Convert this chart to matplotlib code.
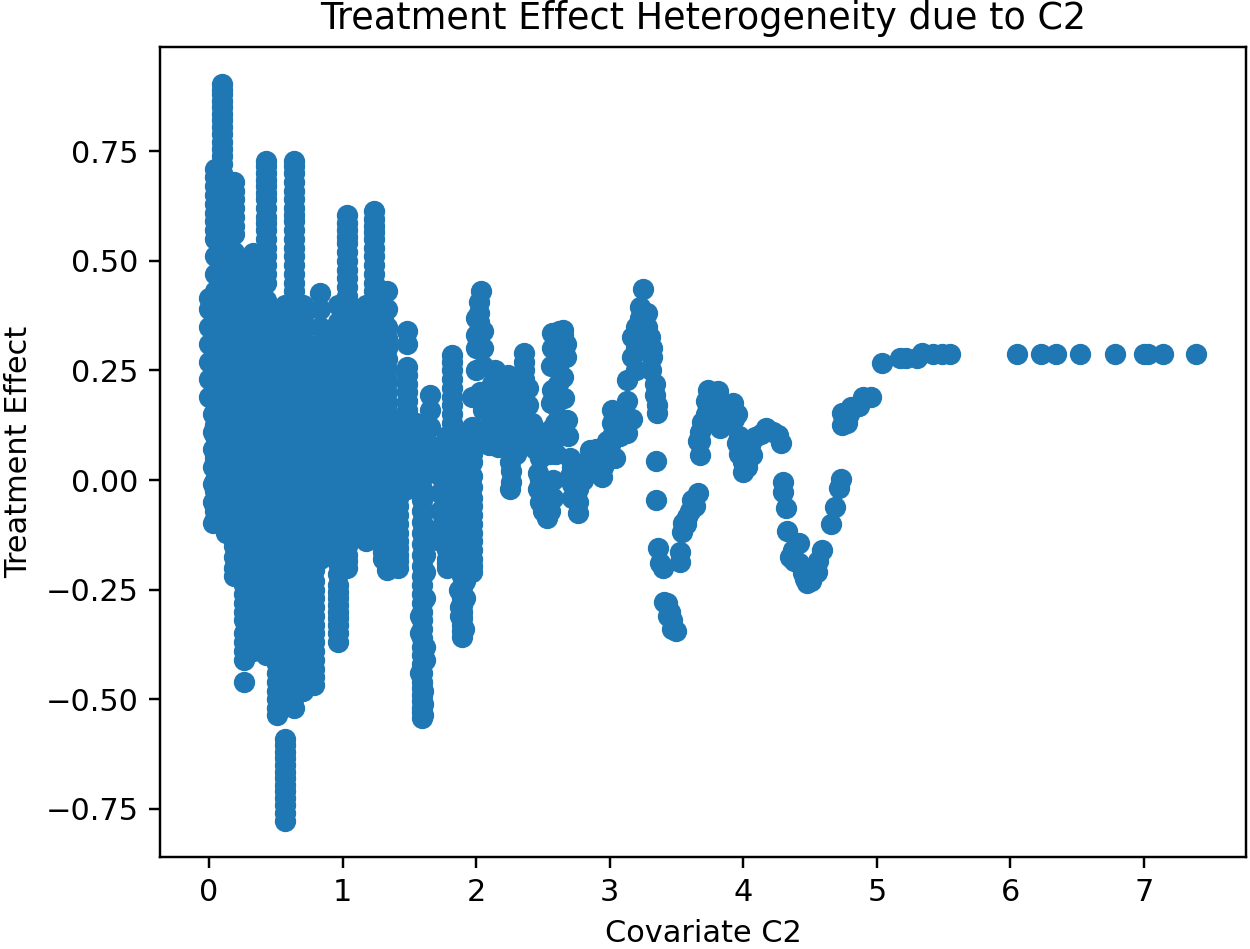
import matplotlib
matplotlib.use("Agg")
import matplotlib.pyplot as plt

# Treatment effect columns: covariate value, then its effects
column_x = [0.00, 0.03, 0.045, 0.095, 0.13, 0.19, 0.225, 0.265, 0.33, 0.39, 0.43, 0.51, 0.57, 0.64, 0.70, 0.745, 0.785,
            0.83, 0.89, 0.965, 1.03, 1.10, 1.175, 1.235, 1.30, 1.335, 1.415, 1.48, 1.55, 1.595, 1.655, 1.73, 1.78, 1.82, 1.895, 1.97]
column_y = [
    [0.415, 0.39, 0.35, 0.31, 0.27, 0.23, 0.19],
    [0.35, 0.31, 0.27, 0.23, 0.19, 0.15, 0.11, 0.07, 0.03, -0.01, -0.05, -0.098],
    [0.71, 0.67, 0.63, 0.59, 0.55, 0.51, 0.47, 0.43, 0.39, 0.35, 0.30, 0.25, 0.20, 0.15, 0.10, 0.05, 0.0, -0.05, -0.09],
    [0.903, 0.88, 0.85, 0.82, 0.79, 0.74, 0.70, 0.66, 0.62, 0.58, 0.54, 0.50, 0.46, 0.42, 0.38, 0.33, 0.28, 0.23, 0.18, 0.13, 0.08, 0.03, -0.02, -0.07, -0.10],
    [0.65, 0.61, 0.57, 0.53, 0.49, 0.45, 0.41, 0.36, 0.31, 0.26, 0.21, 0.16, 0.11, 0.06, 0.01, -0.04, -0.08, -0.12],
    [0.68, 0.64, 0.60, 0.56, 0.52, 0.48, 0.44, 0.40, 0.35, 0.30, 0.25, 0.20, 0.15, 0.10, 0.05, 0.0, -0.05, -0.10, -0.15, -0.20, -0.22],
    [0.50, 0.45, 0.40, 0.35, 0.30, 0.25, 0.20, 0.15, 0.10, 0.05, 0.0, -0.05, -0.10, -0.14, -0.18, -0.21],
    [0.45, 0.40, 0.35, 0.30, 0.25, 0.20, 0.15, 0.10, 0.05, 0.0, -0.05, -0.10, -0.15, -0.20, -0.24, -0.28, -0.32, -0.35, -0.37, -0.39, -0.41, -0.46],
    [0.518, 0.48, 0.44, 0.40, 0.35, 0.30, 0.25, 0.20, 0.15, 0.10, 0.05, 0.0, -0.05, -0.10, -0.15, -0.20, -0.25, -0.30, -0.35, -0.39],
    [0.42, 0.38, 0.33, 0.28, 0.23, 0.18, 0.13, 0.08, 0.03, -0.02, -0.07, -0.12, -0.17, -0.22, -0.27, -0.32, -0.36, -0.39],
    [0.728, 0.70, 0.67, 0.64, 0.60, 0.57, 0.53, 0.49, 0.45, 0.41, 0.36, 0.31, 0.26, 0.21, 0.16, 0.11, 0.06, 0.01, -0.04, -0.09, -0.14, -0.19, -0.24, -0.29, -0.34, -0.38, -0.40],
    [0.38, 0.33, 0.28, 0.23, 0.18, 0.13, 0.08, 0.03, -0.02, -0.07, -0.12, -0.17, -0.22, -0.27, -0.32, -0.37, -0.42, -0.46, -0.50, -0.536],
    [0.40, 0.35, 0.30, 0.25, 0.20, 0.15, 0.10, 0.05, 0.0, -0.05, -0.10, -0.15, -0.20, -0.25, -0.30, -0.35, -0.40, -0.45, -0.50,
     -0.59, -0.62, -0.65, -0.68, -0.71, -0.74, -0.778],
    [0.728, 0.70, 0.66, 0.62, 0.59, 0.55, 0.51, 0.47, 0.43, 0.38, 0.33, 0.28, 0.23, 0.18, 0.13, 0.08, 0.03, -0.02, -0.07, -0.12, -0.17, -0.22, -0.27, -0.32, -0.37, -0.42, -0.47, -0.52],
    [0.40, 0.35, 0.30, 0.25, 0.20, 0.15, 0.10, 0.05, 0.0, -0.05, -0.10, -0.15, -0.20, -0.25, -0.30, -0.35, -0.40, -0.44, -0.48],
    [0.30, 0.25, 0.20, 0.15, 0.10, 0.05, 0.0, -0.05, -0.10, -0.15, -0.20, -0.25, -0.30, -0.35, -0.40, -0.44],
    [0.22, 0.17, 0.12, 0.07, 0.02, -0.03, -0.08, -0.13, -0.18, -0.23, -0.27, -0.31, -0.35, -0.39, -0.43, -0.468],
    [0.426, 0.39, 0.35, 0.31, 0.26, 0.21, 0.16, 0.11, 0.06, 0.01, -0.04, -0.09, -0.14, -0.18],
    [0.33, 0.28, 0.23, 0.18, 0.13, 0.08, 0.03, -0.02, -0.07, -0.13],
    [0.40, 0.36, 0.31, 0.26, 0.21, 0.16, 0.11, 0.06, 0.01, -0.04, -0.09, -0.14, -0.19, -0.24, -0.27, -0.30, -0.33, -0.37],
    [0.604, 0.57, 0.54, 0.50, 0.46, 0.42, 0.37, 0.32, 0.27, 0.22, 0.17, 0.12, 0.07, 0.02, -0.03, -0.08, -0.13, -0.17, -0.20],
    [0.39, 0.34, 0.29, 0.24, 0.19, 0.14, 0.09, 0.04, -0.01, -0.06, -0.10],
    [0.40, 0.35, 0.30, 0.25, 0.20, 0.15, 0.10, 0.05, 0.0, -0.05, -0.10, -0.14],
    [0.613, 0.58, 0.55, 0.51, 0.47, 0.43, 0.38, 0.33, 0.28, 0.23, 0.18, 0.13, 0.08, 0.03, -0.02, -0.07, -0.10],
    [0.43, 0.39, 0.34, 0.29, 0.24, 0.19, 0.14, 0.09, 0.04, -0.01, -0.06, -0.11, -0.15, -0.18],
    [0.43, 0.39, 0.35, 0.30, 0.25, 0.20, 0.15, 0.10, 0.05, 0.0, -0.05, -0.10, -0.15, -0.205],
    [0.137, 0.10, 0.06, 0.02, -0.02, -0.06, -0.10, -0.14, -0.17, -0.20],
    [0.34, 0.31, 0.257, 0.22, 0.18, 0.14, 0.10, 0.06, 0.02, -0.02],
    [0.13, 0.09, 0.05, 0.01, -0.02],
    [0.08, 0.03, -0.02, -0.07, -0.12, -0.17, -0.22, -0.26, -0.30, -0.34, -0.38, -0.42, -0.46, -0.49, -0.52, -0.543],
    [0.194, 0.16, 0.12, 0.08, 0.04, -0.12],
    [0.05, 0.01, -0.03, -0.07, -0.11, -0.14],
    [0.10, 0.06, 0.02, -0.02, -0.06, -0.10, -0.14, -0.18, -0.20],
    [0.285, 0.25, 0.21, 0.17, 0.13, 0.09, 0.05, 0.01, -0.03, -0.07, -0.10],
    [0.10, 0.06, 0.02, -0.02, -0.07, -0.12, -0.17, -0.22, -0.27, -0.30, -0.33, -0.358],
    [0.19, 0.12, 0.08, 0.04, -0.015, -0.06, -0.10, -0.14, -0.18, -0.21],
]

# In-between points at the same covariate values, where the reference column is unbroken
fill_x = [0.045, 0.095, 0.13, 0.19, 0.225, 0.265, 0.33, 0.39, 0.43, 0.51, 0.57, 0.64, 0.70, 0.745, 0.785,
          0.83, 0.89, 0.965, 1.03, 1.10, 1.175, 1.235, 1.30, 1.335, 1.415, 1.48, 1.595, 1.78, 1.82, 1.895, 1.97]
fill_y = [
    [0.69, 0.65, 0.61, 0.57, 0.325, 0.275, 0.225, 0.175, 0.125, 0.075, 0.025, -0.025, -0.07],
    [0.89, 0.865, 0.835, 0.805, 0.77, 0.755, 0.72, 0.68, 0.64, 0.60, 0.56],
    [0.385, 0.335, 0.285, 0.235, 0.185, 0.135, 0.085, 0.035, -0.015, -0.06, -0.10],
    [0.66, 0.62, 0.58, 0.375, 0.325, 0.275, 0.225, 0.175, 0.125, 0.075, 0.025, -0.025, -0.075, -0.125, -0.175],
    [0.475, 0.425, 0.375, 0.325, 0.275, 0.225, 0.175, 0.125, 0.075, 0.025, -0.025, -0.075, -0.12, -0.16, -0.195],
    [0.425, 0.375, 0.325, 0.275, 0.225, 0.175, 0.125, 0.075, 0.025, -0.025, -0.075, -0.125, -0.175, -0.22, -0.26, -0.30],
    [0.375, 0.325, 0.275, 0.225, 0.175, 0.125, 0.075, 0.025, -0.025, -0.075, -0.125, -0.175, -0.225, -0.275, -0.325, -0.37],
    [0.355, 0.305, 0.255, 0.205, 0.155, 0.105, 0.055, 0.005, -0.045, -0.095, -0.145, -0.195, -0.245, -0.295, -0.34],
    [0.715, 0.685, 0.655, 0.62, 0.585, 0.55, 0.51, 0.47, 0.385, 0.335, 0.285, 0.235, 0.185, 0.135, 0.085, 0.035, -0.015, -0.065, -0.115, -0.165, -0.215, -0.265, -0.315, -0.36],
    [0.355, 0.305, 0.255, 0.205, 0.155, 0.105, 0.055, 0.005, -0.045, -0.095, -0.145, -0.195, -0.245, -0.295, -0.345, -0.395, -0.44, -0.48, -0.52],
    [0.375, 0.325, 0.275, 0.225, 0.175, 0.125, 0.075, 0.025, -0.025, -0.075, -0.125, -0.175, -0.225, -0.275, -0.325, -0.375, -0.425, -0.475,
     -0.605, -0.635, -0.665, -0.695, -0.725, -0.76],
    [0.715, 0.68, 0.64, 0.605, 0.57, 0.53, 0.49, 0.45, 0.405, 0.355, 0.305, 0.255, 0.205, 0.155, 0.105, 0.055, 0.005, -0.045, -0.095, -0.145, -0.195, -0.245, -0.295, -0.345, -0.395, -0.445, -0.495],
    [0.375, 0.325, 0.275, 0.225, 0.175, 0.125, 0.075, 0.025, -0.025, -0.075, -0.125, -0.175, -0.225, -0.275, -0.325, -0.375, -0.42, -0.46],
    [0.275, 0.225, 0.175, 0.125, 0.075, 0.025, -0.025, -0.075, -0.125, -0.175, -0.225, -0.275, -0.325, -0.375, -0.42],
    [0.195, 0.145, 0.095, 0.045, -0.005, -0.055, -0.105, -0.155, -0.205, -0.25, -0.29, -0.33, -0.37, -0.41, -0.45],
    [0.285, 0.235, 0.185, 0.135, 0.085, 0.035, -0.015, -0.065, -0.115, -0.16],
    [0.305, 0.255, 0.205, 0.155, 0.105, 0.055, 0.005, -0.045, -0.10],
    [0.335, 0.285, 0.235, 0.185, 0.135, 0.085, 0.035, -0.015, -0.065, -0.115, -0.165, -0.215, -0.255, -0.285, -0.315, -0.35],
    [0.585, 0.555, 0.52, 0.48, 0.44, 0.395, 0.345, 0.295, 0.245, 0.195, 0.145, 0.095, 0.045, -0.005, -0.055, -0.105, -0.15, -0.185],
    [0.365, 0.315, 0.265, 0.215, 0.165, 0.115, 0.065, 0.015, -0.035, -0.08],
    [0.375, 0.325, 0.275, 0.225, 0.175, 0.125, 0.075, 0.025, -0.025, -0.075, -0.12],
    [0.595, 0.565, 0.53, 0.49, 0.45, 0.405, 0.355, 0.305, 0.255, 0.205, 0.155, 0.105, 0.055, 0.005, -0.045, -0.085],
    [0.365, 0.315, 0.265, 0.215, 0.165, 0.115, 0.065, 0.015, -0.035, -0.085, -0.13, -0.165],
    [0.325, 0.275, 0.225, 0.175, 0.125, 0.075, 0.025, -0.025, -0.075, -0.125, -0.18],
    [0.12, 0.08, 0.04, 0.0, -0.04, -0.08, -0.12, -0.155, -0.185],
    [0.24, 0.20, 0.16, 0.12, 0.08, 0.04, 0.0],
    [0.055, 0.005, -0.045, -0.095, -0.145, -0.195, -0.24, -0.28, -0.32, -0.36, -0.40, -0.44, -0.475, -0.505, -0.53],
    [0.08, 0.04, 0.0, -0.04, -0.08, -0.12, -0.16, -0.19],
    [0.27, 0.23, 0.19, 0.15, 0.11, 0.07, 0.03, -0.01, -0.05, -0.085],
    [0.08, 0.04, 0.0, -0.045, -0.095, -0.145, -0.195, -0.245, -0.285, -0.315, -0.345],
    [0.10, 0.06, 0.01, -0.04, -0.08, -0.12, -0.16, -0.195],
]

# Points beside the columns near 1.6 and 1.9, which wander a little in the reference
wander_x = [1.62, 1.62, 1.62, 1.62, 1.58, 1.58, 1.62, 1.62, 1.58, 1.60, 1.60, 1.60, 1.92, 1.92, 1.92, 1.88, 1.88, 1.91, 1.87]
wander_y = [-0.13, -0.17, -0.21, -0.27, -0.31, -0.35, -0.41, -0.38, -0.44, -0.48, -0.51, -0.535, -0.19, -0.23, -0.27, -0.29, -0.31, -0.34, -0.25]

# Separate points on the right-hand part of the chart
tail_x = [2.035, 2.02, 2.02, 2.00, 2.00, 2.03, 2.05, 2.10, 2.10, 2.16, 2.20, 2.22, 2.26, 2.27, 2.27, 2.25, 2.25, 2.14, 2.14, 2.14, 2.18, 2.18,
          2.25, 2.36, 2.36, 2.39, 2.39, 2.42, 2.42, 2.32, 2.32, 2.30, 2.46, 2.46, 2.48, 2.50, 2.53, 2.53, 2.44, 2.44,
          2.65, 2.57, 2.57, 2.56, 2.65, 2.57, 2.66, 2.56, 2.68, 2.69, 2.55, 2.55, 2.70, 2.70, 2.74, 2.76, 2.76, 2.72,
          2.85, 2.94, 2.98, 2.85, 2.80, 2.85, 3.02, 3.02, 3.02, 3.13, 3.13, 3.13, 3.13, 3.17, 3.17, 3.25, 3.23, 3.28, 3.30, 3.31, 3.32, 3.34, 3.355, 3.355,
          3.35, 3.35, 3.36, 3.40, 3.38, 3.525, 3.525, 3.495, 3.66, 3.615, 3.55, 3.54, 3.675, 3.66, 3.69, 3.735, 3.73, 3.81, 3.825, 3.92, 3.95, 3.95, 3.97, 4.00,
          4.03, 4.065, 4.09, 4.17, 4.26, 4.28, 4.30, 4.30, 4.32, 4.33, 4.42, 4.35, 4.42, 4.45, 4.48, 4.51, 4.55, 4.56, 4.59,
          4.66, 4.685, 4.715, 4.73, 4.74, 4.775, 4.74, 4.81, 4.87, 4.895, 4.955,
          5.04, 5.17, 5.22, 5.30, 5.335, 5.42, 5.49, 5.545,
          6.05, 6.23, 6.34, 6.52, 6.78, 7.0, 7.03, 7.14, 7.39]
tail_y = [0.43, 0.38, 0.34, 0.30, 0.25, 0.20, 0.16, 0.12, 0.08, 0.075, 0.13, 0.18, 0.22, 0.16, 0.10, 0.04, -0.02, 0.25, 0.21, 0.17, 0.24, 0.20,
          0.12, 0.29, 0.25, 0.21, 0.17, 0.13, 0.09, 0.15, 0.10, 0.06, 0.015, -0.02, -0.05, -0.07, -0.087, -0.04, 0.11, 0.07,
          0.342, 0.335, 0.30, 0.26, 0.235, 0.205, 0.187, 0.175, 0.137, 0.10, 0.114, 0.06, 0.05, 0.01, -0.02, -0.05, -0.075, -0.04,
          0.068, 0.007, 0.09, 0.04, 0.0, 0.02, 0.16, 0.13, 0.10, 0.107, 0.14, 0.18, 0.228, 0.28, 0.326, 0.436, 0.395, 0.38, 0.326, 0.25, 0.30, 0.194, 0.153, 0.17,
          0.043, -0.046, -0.155, -0.2, -0.19, -0.164, -0.187, -0.344, -0.03, -0.046, -0.098, -0.118, 0.057, 0.09, 0.133, 0.205, 0.18, 0.203, 0.119, 0.176, 0.15, 0.084, 0.06, 0.018,
          0.03, 0.057, 0.098, 0.119, 0.103, 0.084, -0.005, -0.027, -0.064, -0.116, -0.144, -0.175, -0.19, -0.212, -0.235, -0.23, -0.21, -0.185, -0.16,
          -0.1, -0.062, -0.018, 0.002, 0.125, 0.13, 0.153, 0.167, 0.169, 0.19, 0.19,
          0.267, 0.278, 0.278, 0.278, 0.29, 0.288, 0.288, 0.288,
          0.288, 0.288, 0.288, 0.288, 0.288, 0.288, 0.288, 0.288, 0.288]
dip_x = [3.41, 3.43, 3.45, 3.47, 3.47, 3.44]
dip_y = [-0.278, -0.28, -0.30, -0.32, -0.34, -0.31]

# Points that close up the joined clusters between 2 and 4.6
cluster_x = [2.0, 2.0, 2.05, 2.05, 2.05, 2.06, 2.06, 2.06, 2.12, 2.12, 2.12, 2.12, 2.18, 2.18, 2.18, 2.24, 2.24, 2.24, 2.24, 2.24,
             2.30, 2.30, 2.30, 2.34, 2.34, 2.34, 2.40, 2.48, 2.48, 2.50, 2.52, 2.50, 2.575, 2.575, 2.55, 2.56, 2.53, 2.60,
             2.58, 2.58, 2.59, 2.59, 2.59, 2.67, 2.67, 2.65, 2.62, 2.61, 2.61, 2.61, 2.61, 2.61, 2.61,
             2.72, 2.72, 2.76, 2.76, 2.9, 2.9, 2.9, 2.95, 2.95, 2.98, 3.0, 3.04, 2.82, 2.88,
             3.17, 3.20, 3.20, 3.20, 3.23, 3.23, 3.28, 3.28, 3.30, 3.32, 3.34, 3.08, 3.08, 3.10,
             3.64, 3.60, 3.58, 3.57, 3.675, 3.675, 3.72, 3.72, 3.76, 3.76, 3.80, 3.80, 3.85, 3.85, 3.88, 3.93, 3.97, 4.0,
             4.05, 4.13, 4.22, 4.37, 4.38, 4.46, 4.53, 4.50, 4.76, 4.79,
             2.26, 2.26, 2.26, 2.36, 2.36, 2.02, 2.02]
cluster_y = [0.37, 0.33, 0.34, 0.30, 0.26, 0.20, 0.16, 0.10, 0.22, 0.18, 0.14, 0.10, 0.16, 0.12, 0.08, 0.24, 0.20, 0.16, 0.12, 0.08,
             0.22, 0.14, 0.10, 0.22, 0.18, 0.13, 0.09, 0.05, 0.0, -0.03, -0.06, 0.08, 0.0, -0.04, -0.07, 0.10, 0.08, 0.06,
             0.33, 0.30, 0.21, 0.17, 0.13, 0.31, 0.28, 0.33, 0.34, 0.30, 0.26, 0.22, 0.18, 0.14, 0.10,
             0.03, -0.01, 0.01, -0.02, 0.05, 0.03, 0.07, 0.05, 0.03, 0.06, 0.08, 0.05, 0.04, 0.05,
             0.14, 0.25, 0.30, 0.35, 0.33, 0.37, 0.35, 0.30, 0.29, 0.28, 0.22, 0.10, 0.13, 0.13,
             -0.06, -0.07, -0.085, -0.10, 0.11, 0.09, 0.15, 0.18, 0.18, 0.15, 0.17, 0.14, 0.16, 0.13, 0.17, 0.14, 0.10, 0.04,
             0.08, 0.105, 0.11, -0.16, -0.185, -0.225, -0.20, -0.22, 0.14, 0.15,
             0.07, 0.02, -0.005, 0.27, 0.23, 0.405, 0.36]

x_ticks = [0, 1, 2, 3, 4, 5, 6, 7]
y_ticks = [-0.75, -0.50, -0.25, 0.00, 0.25, 0.50, 0.75]

all_x = ([x for cx, ys in zip(column_x, column_y) for x in [cx] * len(ys)]
         + [x for cx, ys in zip(fill_x, fill_y) for x in [cx] * len(ys)]
         + wander_x + tail_x + dip_x + cluster_x)
all_y = ([y for ys in column_y for y in ys] + [y for ys in fill_y for y in ys]
         + wander_y + tail_y + dip_y + cluster_y)

DPI = 219.2
fig = plt.figure(figsize=(1250 / DPI, 949 / DPI), dpi=DPI)
ax = fig.add_axes([160 / 1250, (949 - 857) / 949, (1246 - 160) / 1250, (857 - 47) / 949])
ax.scatter(all_x, all_y)
ax.set_xlim(-0.367, 7.764)
ax.set_ylim(-0.8597, 0.9875)
ax.set_xticks(x_ticks)
ax.set_yticks(y_ticks)
ax.set_title("Treatment Effect Heterogeneity due to C2")
ax.set_xlabel("Covariate C2")
ax.set_ylabel("Treatment Effect")
fig.savefig("out.png", dpi=DPI)
